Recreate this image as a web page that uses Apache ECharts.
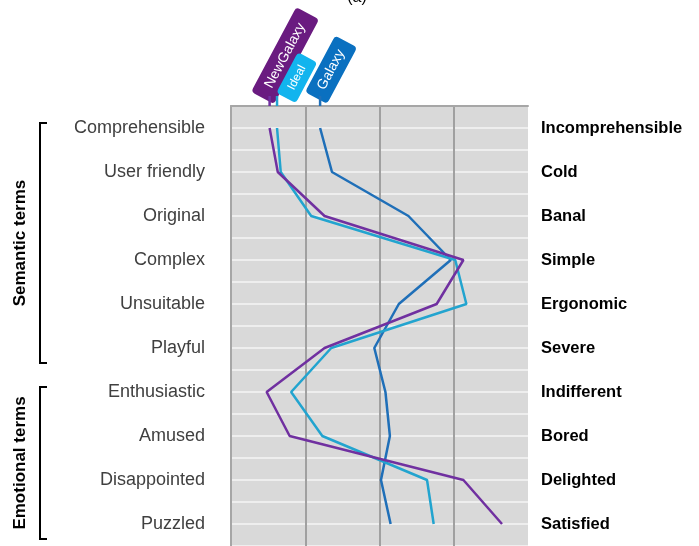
<!DOCTYPE html>
<html>
<head>
<meta charset="utf-8">
<script src="https://cdn.jsdelivr.net/npm/echarts@6/dist/echarts.min.js"></script>
<style>html,body{margin:0;padding:0;background:#fff}#main{width:699px;height:546px}</style>
</head>
<body>
<div id="main"></div>
<script>
// row terms (left pole / right pole)
const leftTerms = ['Comprehensible', 'User friendly', 'Original', 'Complex', 'Unsuitable', 'Playful', 'Enthusiastic', 'Amused', 'Disappointed', 'Puzzled'];
const rightTerms = ['Incomprehensible', 'Cold', 'Banal', 'Simple', 'Ergonomic', 'Severe', 'Indifferent', 'Bored', 'Delighted', 'Satisfied'];
// mean scores on a 1..5 scale
const galaxy = [2.20, 2.36, 3.39, 3.96, 3.26, 2.93, 3.08, 3.14, 3.02, 3.15];
const ideal = [1.62, 1.67, 2.08, 4.02, 4.17, 2.35, 1.81, 2.23, 3.64, 3.73];
const newGalaxy = [1.52, 1.63, 2.26, 4.13, 3.77, 2.26, 1.48, 1.79, 4.13, 4.65];
const seriesNames = ['Galaxy', 'Ideal', 'NewGalaxy'];
const groupNames = ['Semantic terms', 'Emotional terms'];
const groupRows = [[0, 5], [6, 9]];

const lineColors = ['#1f6fb8', '#22a4cf', '#7030a0'];
const tagColors = ['#0a70c0', '#12b4ee', '#6a1b80'];

const chart = echarts.init(document.getElementById('main'));
const isRow = v => Math.abs(v - Math.round(v)) < 1e-6;

chart.setOption({
    animation: false,
    grid: { left: 231, top: 106, width: 297, height: 441, show: true, backgroundColor: '#d9d9d9', borderWidth: 0 },
    xAxis: {
        type: 'value', position: 'top', min: 1, max: 5, interval: 1,
        axisLabel: { show: false }, axisTick: { show: false },
        axisLine: { show: true, onZero: false, lineStyle: { color: '#a6a6a6', width: 2 } },
        splitLine: { show: true, showMinLine: false, showMaxLine: false, lineStyle: { color: '#a0a0a0', width: 2 } }
    },
    yAxis: [{
        type: 'value', position: 'left', inverse: true, min: -0.5, max: 9.5, interval: 0.5,
        axisTick: { show: false },
        axisLine: { show: true, onZero: false, lineStyle: { color: '#a6a6a6', width: 2 } },
        splitLine: { show: true, lineStyle: { color: '#f4f4f4', width: 1.5 } },
        axisLabel: {
            margin: 26, fontSize: 18, color: '#404040', fontFamily: 'Liberation Sans',
            formatter: v => isRow(v) ? (leftTerms[Math.round(v)] || '') : ''
        }
    }, {
        type: 'value', position: 'right', inverse: true, min: -0.5, max: 9.5, interval: 0.5,
        axisTick: { show: false }, axisLine: { show: false }, splitLine: { show: false },
        axisLabel: {
            margin: 13, fontSize: 16.5, fontWeight: 'bold', color: '#000', fontFamily: 'Liberation Sans',
            formatter: v => isRow(v) ? (rightTerms[Math.round(v)] || '') : ''
        }
    }],
    series: [galaxy, ideal, newGalaxy].map((vals, k) => ({
        name: seriesNames[k],
        type: 'line',
        symbol: 'none',
        data: vals.map((v, i) => [v, i]),
        lineStyle: { color: lineColors[k], width: 2.5 },
        z: 3 + k
    }))
});

// annotations placed through the axes' own scales
const px = (x, y) => chart.convertToPixel({ xAxisIndex: 0, yAxisIndex: 0 }, [x, y]);
const graphics = [];
const plotTop = px(1, -0.5)[1];

// name tags attached to the first point of each line
const tagLen = [64, 46, 96], tagW = [25, 22, 26], tagDx = [-4, 9, -7], tagFont = [14, 12, 14];
[galaxy, ideal, newGalaxy].forEach((vals, k) => {
    const x0 = px(vals[0], 0)[0];
    graphics.push({
        type: 'line', z: 10,
        shape: { x1: x0, y1: plotTop, x2: x0, y2: plotTop - 10 },
        style: { stroke: lineColors[k], lineWidth: 2.5 }
    });
});
[newGalaxy, galaxy, ideal].forEach(vals => {
    const k = [galaxy, ideal, newGalaxy].indexOf(vals);
    const x0 = px(vals[0], 0)[0];
    graphics.push({
        type: 'group', z: 20,
        x: x0 + tagDx[k], y: plotTop - 8,
        rotation: 62 * Math.PI / 180,
        children: [{
            type: 'rect',
            shape: { x: 0, y: -tagW[k] / 2, width: tagLen[k], height: tagW[k], r: 4 },
            style: { fill: tagColors[k] }
        }, {
            type: 'text',
            x: tagLen[k] / 2, y: 0,
            style: {
                text: seriesNames[k], fill: '#fff', fontSize: tagFont[k], fontFamily: 'Liberation Sans',
                align: 'center', verticalAlign: 'middle'
            }
        }]
    });
});

// group brackets on the left
groupRows.forEach((rows, g) => {
    const yTop = px(1, rows[0])[1] - 5;
    const yBot = px(1, rows[1])[1] + 15;
    graphics.push({
        type: 'polyline',
        shape: { points: [[47, yTop], [40, yTop], [40, yBot], [47, yBot]] },
        style: { stroke: '#000', lineWidth: 2, fill: null }
    });
    graphics.push({
        type: 'text',
        x: 20, y: (yTop + yBot) / 2,
        rotation: Math.PI / 2,
        style: {
            text: groupNames[g], fill: '#000', fontSize: 17, fontWeight: 'bold', fontFamily: 'Liberation Sans',
            align: 'center', verticalAlign: 'middle'
        }
    });
});

// panel caption, cut by the top edge
graphics.push({
    type: 'text', x: 357, y: -10,
    style: { text: '(a)', fill: '#000', fontSize: 16, fontFamily: 'Liberation Sans', align: 'center', verticalAlign: 'top' }
});

chart.setOption({ graphic: graphics });
</script>
</body>
</html>
